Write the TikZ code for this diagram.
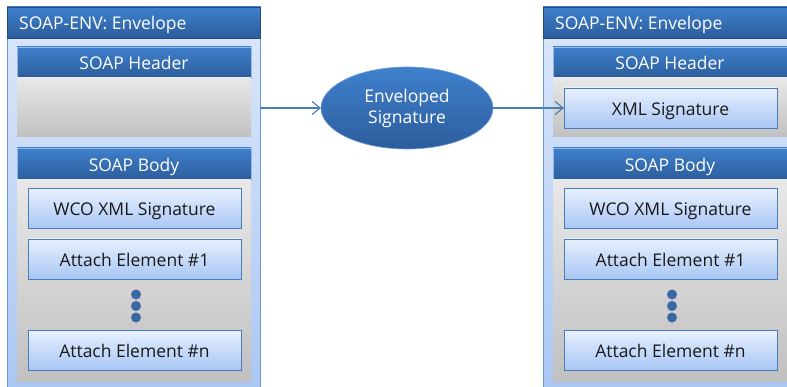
\documentclass[tikz,border=0pt]{standalone}
\usepackage{fontspec}
\setmainfont{Open Sans}
\usetikzlibrary{arrows.meta,shapes.geometric}
\definecolor{barTop}{HTML}{3F80CC}
\definecolor{barBot}{HTML}{2C5D9C}
\definecolor{frameTop}{HTML}{DCE8FB}
\definecolor{frameBot}{HTML}{A9C6F3}
\definecolor{frameLine}{HTML}{6A9BE0}
\definecolor{greyTop}{HTML}{E8E8E8}
\definecolor{greyBot}{HTML}{C0C0C0}
\definecolor{boxTop}{HTML}{E8F0FF}
\definecolor{boxBot}{HTML}{A8C6F4}
\definecolor{boxLine}{HTML}{4A7EBB}
\definecolor{dotCol}{HTML}{3A68A6}
\definecolor{arrowCol}{HTML}{4A7EBB}
\tikzset{
  blk/.style={rectangle, inner sep=0pt, outer sep=0pt},
  txtfont/.style={font=\fontsize{17.5}{19}\selectfont},
  fixtxt/.style={text height=16pt, text depth=1.4pt},
  envframe/.style={blk, draw=frameLine, line width=1pt, top color=frameTop, bottom color=frameBot, minimum width=253pt, minimum height=393pt},
  titlebar/.style={blk, top color=barTop, bottom color=barBot, draw=barBot!80!black, line width=0.6pt, minimum width=253pt, minimum height=31pt},
  titletext/.style={txtfont, text=white, inner sep=0pt, anchor=west},
  secbar/.style={blk, top color=barTop, bottom color=barBot, draw=frameLine!70, line width=0.5pt, minimum width=234pt, text=white, txtfont, fixtxt},
  greypanel/.style={blk, top color=greyTop, bottom color=greyBot, minimum width=234pt},
  itembox/.style={blk, draw=boxLine, line width=0.8pt, top color=boxTop, bottom color=boxBot, minimum width=213pt, minimum height=40pt, text=black!90, txtfont, fixtxt},
  dotmark/.style={circle, fill=dotCol, inner sep=0pt, minimum size=10pt},
  conn/.style={draw=arrowCol, line width=1.2pt, -{Straight Barb[length=8pt,width=13pt,line width=1.2pt]}},
}
\begin{document}
\begin{tikzpicture}[x=1pt,y=-1pt]
\clip (0,0) rectangle (787,387);
\useasboundingbox (0,0) rectangle (787,387);
% ---------- left envelope ----------
\node[envframe] (lframe) at (133.5,203.5) {};
\node[titlebar] (ltitle) at (133.5,22.5) {};
\node[titletext] (ltitletext) at (19,24.5) {SOAP-ENV: Envelope};
\node[secbar, minimum height=31pt] (lhead) at (134,62.5) {SOAP Header};
\node[greypanel, minimum height=59pt] (lheadgrey) at (134,107.5) {};
\node[secbar, minimum height=32pt] (lbody) at (134,164) {SOAP Body};
\node[greypanel, minimum height=201pt] (lbodygrey) at (134,280.5) {};
\node[itembox] (lwco) at (134.5,208.5) {WCO XML Signature};
\node[itembox] (la1) at (134.5,259) {Attach Element \#1};
\node[dotmark] (ld1) at (136,294.5) {};
\node[dotmark] (ld2) at (136,306) {};
\node[dotmark] (ld3) at (136,317.5) {};
\node[itembox] (lan) at (134.5,350) {Attach Element \#n};
% ---------- right envelope ----------
\node[envframe] (rframe) at (669.5,203.5) {};
\node[titlebar] (rtitle) at (669.5,22.5) {};
\node[titletext] (rtitletext) at (555,24.5) {SOAP-ENV: Envelope};
\node[secbar, minimum height=31pt] (rhead) at (670,62.5) {SOAP Header};
\node[greypanel, minimum height=59pt] (rheadgrey) at (670,107.5) {};
\node[itembox] (rxml) at (670.5,108) {XML Signature};
\node[secbar, minimum height=32pt] (rbody) at (670,164) {SOAP Body};
\node[greypanel, minimum height=201pt] (rbodygrey) at (670,280.5) {};
\node[itembox] (rwco) at (670.5,208.5) {WCO XML Signature};
\node[itembox] (ra1) at (670.5,259) {Attach Element \#1};
\node[dotmark] (rd1) at (672,294.5) {};
\node[dotmark] (rd2) at (672,306) {};
\node[dotmark] (rd3) at (672,317.5) {};
\node[itembox] (ran) at (670.5,350) {Attach Element \#n};
% ---------- ellipse ----------
\node[ellipse, inner sep=0pt, outer sep=0pt, minimum width=172pt, minimum height=82pt,
      top color=barTop, bottom color=barBot, draw=frameLine, line width=0.6pt,
      text=white, align=center, font=\fontsize{17.5}{21}\selectfont] (ell) at (407,108) {Enveloped\\Signature};
% ---------- connectors ----------
\draw[conn] (lframe.east |- ell.west) -- (ell.west);
\draw[conn] (ell.east) -- (rxml.west);
\end{tikzpicture}
\end{document}
